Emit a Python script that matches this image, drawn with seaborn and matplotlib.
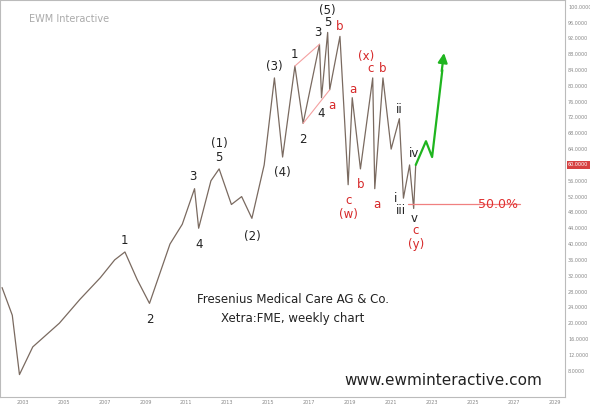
import numpy as np
import pandas as pd
import seaborn as sns
import matplotlib.pyplot as plt

sns.set_style('white')

# key pivots of the weekly price (year, price)
years = [2002.0, 2002.5, 2002.85, 2003.5, 2004.8, 2005.8, 2006.8, 2007.5, 2008.0, 2008.6,
         2009.2, 2009.8, 2010.2, 2010.8, 2011.4, 2011.6, 2012.2, 2012.6, 2013.2, 2013.7,
         2014.2, 2014.8, 2015.3, 2015.7, 2016.3, 2016.7, 2017.5, 2017.6, 2017.9, 2018.0,
         2018.5, 2018.9, 2019.1, 2019.5, 2020.1, 2020.2, 2020.6, 2021.0, 2021.4, 2021.6,
         2021.9, 2022.1, 2022.2]
prices = [29, 22, 7, 14, 20, 26, 31.5, 36, 38, 31,
          25, 34, 40, 45, 54, 44, 56, 59, 50, 52,
          46.5, 60, 82, 62, 85, 70.5, 90.5, 77, 93.5, 79,
          92.5, 55, 77, 59, 82, 54, 82, 64, 71.7, 51.6,
          60, 49, 60]
proj_years = [2022.2, 2022.7, 2023.0, 2023.5]
proj_prices = [60, 66, 62, 84]

# trend lines around the 2016-2018 waves
trend_a_years = [2016.3, 2017.5]
trend_a_prices = [85, 90.5]
trend_b_years = [2016.7, 2018.0]
trend_b_prices = [70.5, 79]

# wave labels: (year, price, text, color)
labels = [
    (2008.0, 41, '1', 'k'), (2009.2, 21, '2', 'k'), (2011.3, 57, '3', 'k'), (2011.6, 40, '4', 'k'),
    (2012.6, 62, '5', 'k'), (2012.6, 65.5, '(1)', 'k'), (2014.2, 42, '(2)', 'k'),
    (2015.3, 85, '(3)', 'k'), (2015.7, 58, '(4)', 'k'), (2016.3, 88, '1', 'k'),
    (2016.7, 66.5, '2', 'k'), (2017.4, 93.5, '3', 'k'), (2017.6, 73, '4', 'k'),
    (2017.9, 96, '5', 'k'), (2017.9, 99, '(5)', 'k'),
    (2018.1, 75, 'a', 'C3'), (2018.5, 95, 'b', 'C3'), (2018.9, 51, 'c', 'C3'), (2018.9, 47.5, '(w)', 'C3'),
    (2019.15, 79, 'a', 'C3'), (2019.5, 55, 'b', 'C3'), (2020.0, 84.5, 'c', 'C3'), (2019.8, 87.5, '(x)', 'C3'),
    (2020.3, 50, 'a', 'C3'), (2020.6, 84.5, 'b', 'C3'),
    (2021.4, 74, 'ii', 'k'), (2021.2, 51.5, 'i', 'k'), (2021.5, 48.5, 'iii', 'k'),
    (2022.1, 63, 'iv', 'k'), (2022.1, 46.5, 'v', 'k'), (2022.2, 43.5, 'c', 'C3'), (2022.2, 40, '(y)', 'C3'),
]
yticks = list(range(8, 101, 4))
xticks = list(range(2003, 2030, 2))

df = pd.DataFrame({'year': years, 'price': prices})
proj = pd.DataFrame({'year': proj_years, 'price': proj_prices})

fig = plt.figure(figsize=(5.9, 4.04), dpi=100)
ax = fig.add_axes([0.0, 0.017, 0.958, 0.983])
sns.lineplot(data=df, x='year', y='price', ax=ax, color='#7a6a60', lw=0.9)
sns.lineplot(data=proj, x='year', y='price', ax=ax, color='#1fb51f', lw=1.6)
sns.lineplot(x=trend_a_years, y=trend_a_prices, ax=ax, color='#f4a0a0', lw=0.8)
sns.lineplot(x=trend_b_years, y=trend_b_prices, ax=ax, color='#f4a0a0', lw=0.8)
ax.annotate('', xy=(2023.6, 89), xytext=(2023.45, 83),
            arrowprops=dict(arrowstyle='-|>', color='#1fb51f', lw=1.6, mutation_scale=14))

for x, y, t, c in labels:
    ax.text(x, y, t, color=('#d62728' if c == 'C3' else '#222222'), fontsize=8.5, ha='center', va='center')

ax.plot([2021.8, 2027.3], [50, 50], color='#f08080', lw=0.9)
ax.text(2026.2, 50, '50.0%', color='#e03030', fontsize=9, ha='center', va='center')

ax.text(2016.2, 23.5, 'Fresenius Medical Care AG & Co.\nXetra:FME, weekly chart',
        fontsize=8.5, ha='center', va='center', linespacing=1.6, color='#222222')
ax.text(2028.4, 5.5, 'www.ewminteractive.com', fontsize=11, ha='right', va='center', color='#222222')
ax.text(2003.3, 97, 'EWM Interactive', fontsize=7, color='#aaaaaa', va='center')

ax.set_xlim(2001.9, 2029.5)
ax.set_ylim(1.3, 101.7)
ax.set_xticks(xticks)
ax.set_yticks(yticks)
ax.yaxis.tick_right()
ax.set_yticklabels(['%.4f' % v for v in yticks])
ax.tick_params(labelsize=3.5, colors='#888888', length=0, pad=2)
ax.set_xlabel('')
ax.set_ylabel('')
for s in ax.spines.values():
    s.set_color('#bbbbbb')
    s.set_linewidth(0.8)
ax.text(1.005, (60 - 1.3) / (101.7 - 1.3), '60.0000', transform=ax.transAxes, fontsize=3.5,
        color='white', va='center', ha='left',
        bbox=dict(boxstyle='square,pad=0.3', fc='#d64040', ec='none'), clip_on=False)

fig.savefig('out.png', dpi=100)
